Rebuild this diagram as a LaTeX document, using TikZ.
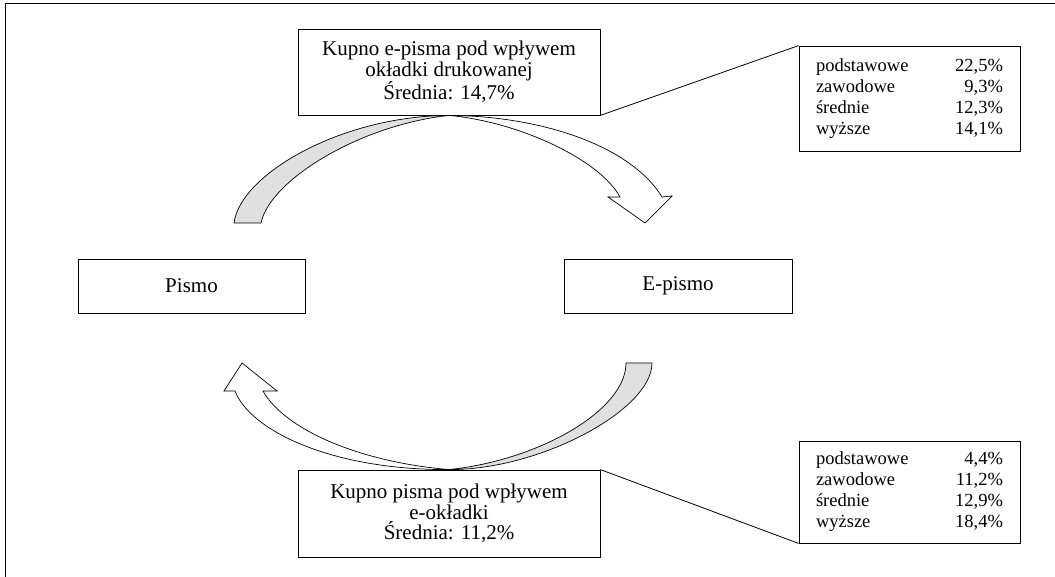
\documentclass[tikz,border=0pt]{standalone}
\usepackage{fontspec}
\setmainfont{Liberation Serif}
\usetikzlibrary{positioning, calc}

\begin{document}
\begin{tikzpicture}[x=1pt, y=-1pt,
        blk/.style={draw, line width=0.8pt, align=center, inner sep=0pt,
                    font=\fontsize{21}{20.5}\selectfont},
        tbl/.style={draw, line width=0.8pt, inner sep=0pt,
                    minimum width=221pt, font=\fontsize{18.5}{21}\selectfont},
        band/.style={draw, line width=0.7pt, line join=miter}]

      \useasboundingbox (0,0) rectangle (1055,577);
      \draw[line width=1pt] (5,577) -- (5,4) -- (1055,4);

      \node[blk, minimum width=302pt, minimum height=86pt] (kupe) at (449,72)
            {Kupno e-pisma pod wpływem\\okładki drukowanej\\Średnia: 14,7\%};
      \node[blk, minimum width=302pt, minimum height=87pt] (kupp) at (449,513.5)
            {Kupno pisma pod wpływem\\e-okładki\\Średnia: 11,2\%};
      \node[blk, minimum width=227pt, minimum height=54pt] (pismo) at (191.5,286) {Pismo};
      \node[blk, minimum width=228pt, minimum height=54pt] (epismo) at (678,286) {E-pismo};

      \node[tbl, minimum height=105pt] (tabe) at (909.5,98.5)
            {\begin{tabular*}{187pt}{@{}l@{\extracolsep{\fill}}r@{}}
             podstawowe & 22,5\% \\ zawodowe & 9,3\% \\
             średnie & 12,3\% \\ wyższe & 14,1\%
             \end{tabular*}};
      \node[tbl, minimum height=102pt] (tabp) at (909.5,492)
            {\begin{tabular*}{187pt}{@{}l@{\extracolsep{\fill}}r@{}}
             podstawowe & 4,4\% \\ zawodowe & 11,2\% \\
             średnie & 12,9\% \\ wyższe & 18,4\%
             \end{tabular*}};

      \draw[line width=0.8pt] (kupe.south east) -- (tabe.north west);
      \draw[line width=0.8pt] (kupp.north east) -- (tabp.south west);

      % upper arrow, Pismo -> E-pismo
      \draw[band, fill=black!12] (234,223) .. controls (240,175) and (340,116) .. (kupe.south)
            .. controls (360,125) and (270,180) .. (261,223) -- cycle;
      \draw[band, fill=white] (kupe.south) .. controls (540,116) and (630,145) .. (662,197)
            -- (672,196) -- (645,223) -- (608,197) -- (620,197)
            .. controls (600,160) and (520,122) .. (kupe.south) -- cycle;

      % lower arrow, E-pismo -> Pismo
      \draw[band, fill=black!12] (652,363) .. controls (652,410) and (540,470) .. (kupp.north)
            .. controls (540,460) and (626,410) .. (626,363) -- cycle;
      \draw[band, fill=white] (kupp.north) .. controls (330,470) and (250,430) .. (235,391)
            -- (224,391) -- (242,363) -- (277,391) -- (263,391)
            .. controls (285,430) and (360,462) .. (kupp.north) -- cycle;
    \end{tikzpicture}
\end{document}
